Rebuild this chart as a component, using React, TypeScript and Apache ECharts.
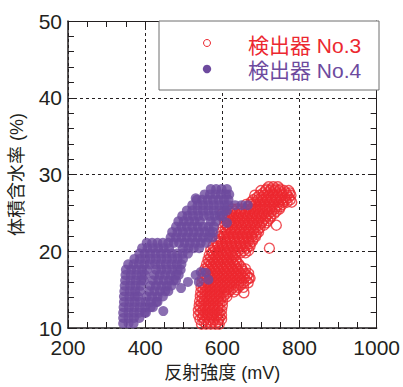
import { useEffect, useRef } from "react";
import * as echarts from "echarts";

// Axis ranges
const xRange = { min: 200, max: 1000, step: 200 };
const yRange = { min: 10, max: 50, step: 10 };

const legendLabels = ["検出器 No.3", "検出器 No.4"];
const xTitle = "反射強度 (mV)";
const yTitle = "体積含水率 (%)";

// Detector No.3 readings, grouped by water content: [%, reflection values in mV]
const detector3Rows: [number, number[]][] = [
  [10.5, [546, 558, 570, 582, 592]],
  [11.1, [542, 554, 566, 578, 590, 598]],
  [11.7, [538, 550, 562, 574, 586, 598]],
  [12.3, [538, 550, 562, 574, 586, 598]],
  [12.9, [540, 552, 564, 576, 588, 600]],
  [13.5, [541, 553, 565, 577, 589, 601]],
  [14.1, [543, 555, 567, 579, 591, 603, 612]],
  [14.7, [544, 556, 568, 580, 592, 604, 616, 630]],
  [15.3, [545, 557, 569, 581, 593, 605, 617, 629, 641, 655]],
  [15.9, [547, 559, 571, 583, 595, 607, 619, 631, 643, 655, 667]],
  [16.5, [549, 561, 573, 585, 597, 609, 621, 633, 645, 657, 669, 672]],
  [17.1, [551, 563, 575, 587, 599, 611, 623, 635, 647, 659, 668]],
  [17.7, [555, 567, 579, 591, 603, 615, 627, 639, 651, 660]],
  [18.3, [559, 571, 583, 595, 607, 619, 631, 643]],
  [18.9, [563, 575, 587, 599, 611, 623, 635]],
  [19.5, [566, 578, 590, 602, 614, 626, 634]],
  [20.1, [570, 582, 594, 606, 618, 630, 642, 656, 668]],
  [20.7, [576, 588, 600, 612, 624, 636, 648, 660, 672]],
  [21.3, [584, 596, 608, 620, 632, 644, 656, 668, 678]],
  [21.9, [592, 604, 616, 628, 640, 652, 664, 676, 686]],
  [22.5, [598, 610, 622, 634, 646, 658, 670, 682, 694]],
  [23.1, [602, 614, 626, 638, 650, 662, 674, 686, 698]],
  [23.7, [606, 618, 630, 642, 654, 666, 678, 690, 702, 714]],
  [24.3, [604, 616, 628, 640, 652, 664, 676, 688, 700, 712, 724]],
  [24.9, [600, 612, 624, 636, 648, 660, 672, 684, 696, 708, 720, 734]],
  [25.5, [626, 638, 650, 662, 674, 686, 698, 710, 722, 736, 748]],
  [26.1, [662, 674, 686, 698, 710, 722, 734, 746, 756]],
  [26.7, [680, 692, 704, 716, 728, 740, 752, 764, 776]],
  [27.3, [684, 696, 708, 720, 732, 744, 756, 768, 778]],
  [27.9, [700, 712, 724, 736, 748, 760, 772]],
  [28.4, [720, 732, 744]],
];
// Readings falling between the rows above, in the core of the band
const detector3MidRows: [number, number[]][] = [
  [10.8, [552, 564, 576, 588]],
  [11.4, [548, 560, 572, 584, 594]],
  [12.0, [544, 556, 568, 580, 592]],
  [12.6, [544, 556, 568, 580, 592]],
  [13.2, [546, 558, 570, 582, 594]],
  [13.8, [548, 560, 572, 584, 596]],
  [14.4, [549, 561, 573, 585, 597, 609]],
  [15.0, [550, 562, 574, 586, 598, 610, 622, 636]],
  [15.6, [552, 564, 576, 588, 600, 612, 624, 636, 648]],
  [16.2, [554, 566, 578, 590, 602, 614, 626, 638, 650, 662]],
  [16.8, [556, 568, 580, 592, 604, 616, 628, 640, 652, 664]],
  [17.4, [558, 570, 582, 594, 606, 618, 630, 642, 654]],
  [18.0, [563, 575, 587, 599, 611, 623, 635, 648]],
  [18.6, [567, 579, 591, 603, 615, 627, 638]],
  [19.2, [570, 582, 594, 606, 618, 628]],
  [19.8, [574, 586, 598, 610, 622, 634, 648, 660]],
  [20.4, [580, 592, 604, 616, 628, 640, 652, 664]],
  [21.0, [588, 600, 612, 624, 636, 648, 660, 672]],
  [21.6, [596, 608, 620, 632, 644, 656, 668, 680]],
  [22.2, [604, 616, 628, 640, 652, 664, 676, 688]],
  [22.8, [608, 620, 632, 644, 656, 668, 680, 692]],
  [23.4, [612, 624, 636, 648, 660, 672, 684, 696, 708]],
  [24.0, [610, 622, 634, 646, 658, 670, 682, 694, 706, 718]],
  [24.6, [606, 618, 630, 642, 654, 666, 678, 690, 702, 714, 726]],
  [25.2, [620, 632, 644, 656, 668, 680, 692, 704, 716, 728, 740]],
  [25.8, [668, 680, 692, 704, 716, 728, 740, 750]],
  [26.4, [674, 686, 698, 710, 722, 734, 746, 758, 768]],
  [27.0, [690, 702, 714, 726, 738, 750, 762, 772]],
  [27.6, [706, 718, 730, 742, 754, 766]],
  [28.1, [714, 726, 738, 750]],
];
const detector3Scattered: [number, number][] = [
  [656, 14.6], [722, 20.4], [740, 23.4], [780, 26.4], [775, 27.6],
];

// Detector No.4 readings, grouped by water content: [%, reflection values in mV]
const detector4Rows: [number, number[]][] = [
  [28.1, [570, 584, 598, 612]],
  [27.4, [554, 568, 582, 596, 610, 618]],
  [26.7, [534, 548, 562, 576, 590, 604, 616]],
  [26.0, [522, 536, 550, 564, 578, 592, 606, 616, 633, 650, 666]],
  [25.3, [508, 522, 536, 550, 564, 578, 592, 606, 612]],
  [24.6, [496, 510, 524, 538, 552, 566, 580, 594, 600]],
  [23.9, [486, 500, 514, 528, 542, 570, 584]],
  [23.2, [480, 494, 508, 522, 536, 550, 564, 578]],
  [22.5, [470, 484, 498, 512, 526, 540, 554, 568, 577]],
  [21.8, [466, 480, 494, 508, 522, 536, 550, 564, 575]],
  [21.1, [404, 418, 432, 446, 460, 474, 488, 502, 516, 530, 544, 558]],
  [20.4, [392, 406, 420, 434, 448, 462, 498, 512, 526, 540]],
  [19.7, [385, 399, 413, 427, 441, 455, 469, 483, 497, 511]],
  [19.0, [372, 386, 400, 414, 428, 442, 456, 470, 484, 498]],
  [18.3, [356, 370, 384, 398, 412, 426, 440, 454, 468, 482, 494]],
  [17.6, [350, 364, 378, 392, 404, 428, 442, 456, 470, 484, 492]],
  [16.9, [349, 363, 377, 391, 400, 424, 438, 452, 466, 480, 487]],
  [16.2, [348, 362, 376, 390, 396, 420, 434, 448, 462, 474, 480]],
  [15.5, [347, 361, 375, 389, 414, 428, 442, 456, 468]],
  [14.8, [346, 360, 374, 386, 410, 424, 438, 452, 460]],
  [14.1, [345, 359, 373, 381, 404, 418, 432, 446]],
  [13.4, [345, 359, 373, 387, 401, 415, 429, 432]],
  [12.7, [344, 358, 372, 386, 400, 414, 420]],
  [12.0, [343, 357, 371, 385, 399, 402]],
  [11.3, [343, 357, 371, 385]],
  [10.6, [343, 357, 370]],
];
const detector4Scattered: [number, number][] = [
  [511, 16.0], [493, 15.2], [447, 12.2],
  [531, 16.9], [544, 17.3], [557, 17.2], [564, 16.3], [539, 16.0],
  [612, 23.7], [531, 26.9],
];

const RED = "#ec2830";
const PURPLE = "#6d4a9e";
const INK = "#231f20";
const FONT = '"Liberation Sans", Arial, "Noto Sans CJK JP", sans-serif';

function toPoints(rowSets: [number, number[]][][], extra: [number, number][]) {
  const pts: [number, number][] = [];
  rowSets.forEach((rows) =>
    rows.forEach(([y, xs]) => xs.forEach((x) => pts.push([x, y])))
  );
  return pts.concat(extra);
}

function frameAxis(extra: Record<string, unknown>) {
  return {
    type: "value",
    axisLine: { show: true, onZero: false, lineStyle: { color: INK, width: 1.5 } },
    axisTick: { show: true, inside: true, length: 8, lineStyle: { color: INK, width: 1 } },
    ...extra,
  };
}

export default function App() {
  const ref = useRef<HTMLDivElement>(null);

  useEffect(() => {
    document.body.style.margin = "0";
    const chart = echarts.init(ref.current!, null, { renderer: "svg" });

    const splitLine = { show: true, lineStyle: { color: INK, width: 1, type: [3, 3] } };
    const tickLabel = {
      fontSize: 21,
      color: INK,
      fontFamily: FONT,
      formatter: (v: number) => String(v),
    };

    chart.setOption({
      animation: false,
      backgroundColor: "#fff",
      grid: { left: 65, right: 24, top: 21, bottom: 53, containLabel: false },
      xAxis: [
        frameAxis({
          min: xRange.min,
          max: xRange.max,
          interval: xRange.step,
          position: "bottom",
          minorTick: { show: true, splitNumber: 4, length: 6, lineStyle: { color: INK } },
          splitLine,
          axisLabel: { ...tickLabel, margin: 9 },
          name: xTitle,
          nameLocation: "middle",
          nameGap: 36,
          nameTextStyle: { fontSize: 18, color: INK, fontFamily: FONT },
        }),
        frameAxis({
          min: xRange.min,
          max: xRange.max,
          interval: xRange.step,
          position: "top",
          axisLine: { show: true, onZero: false, lineStyle: { color: INK, width: 1 } },
          minorTick: { show: true, splitNumber: 4, length: 6, lineStyle: { color: INK } },
          splitLine: { show: false },
          axisLabel: { show: false },
        }),
      ],
      yAxis: [
        frameAxis({
          min: yRange.min,
          max: yRange.max,
          interval: yRange.step,
          position: "left",
          minorTick: { show: true, splitNumber: 5, length: 6, lineStyle: { color: INK } },
          splitLine,
          axisLabel: { ...tickLabel, margin: 6, padding: [0, 0, 4, 0] },
          name: yTitle,
          nameLocation: "middle",
          nameGap: 42,
          nameRotate: 90,
          nameTextStyle: { fontSize: 18, color: INK, fontFamily: FONT },
        }),
        frameAxis({
          min: yRange.min,
          max: yRange.max,
          interval: yRange.step,
          position: "right",
          axisLine: { show: true, onZero: false, lineStyle: { color: INK, width: 1 } },
          minorTick: { show: true, splitNumber: 5, length: 6, lineStyle: { color: INK } },
          splitLine: { show: false },
          axisLabel: { show: false },
        }),
      ],
      series: [
        {
          name: legendLabels[0],
          type: "scatter",
          symbol: "circle",
          symbolSize: 10,
          itemStyle: { color: "rgba(0,0,0,0)", borderColor: RED, borderWidth: 1.4 },
          data: toPoints([detector3Rows, detector3MidRows], detector3Scattered),
          z: 2,
        },
        {
          name: legendLabels[1],
          type: "scatter",
          symbol: "circle",
          symbolSize: 10,
          itemStyle: { color: PURPLE, borderWidth: 0 },
          data: toPoints([detector4Rows], detector4Scattered),
          z: 3,
        },
      ],
      graphic: [
        {
          type: "group",
          z: 100,
          children: [
            {
              type: "rect",
              shape: { x: 159, y: 21, width: 220, height: 69 },
              style: { fill: "#fff", stroke: "#6e6e6e", lineWidth: 1 },
              z: 100,
            },
            {
              type: "circle",
              shape: { cx: 207, cy: 43, r: 3.5 },
              style: { fill: "#fff", stroke: RED, lineWidth: 1 },
              z: 101,
            },
            {
              type: "circle",
              shape: { cx: 207, cy: 69, r: 4.2 },
              style: { fill: PURPLE },
              z: 101,
            },
            {
              type: "text",
              x: 248,
              y: 45,
              style: {
                text: legendLabels[0],
                fill: RED,
                fontSize: 21,
                fontFamily: FONT,
                verticalAlign: "middle",
                align: "left",
              },
              z: 101,
            },
            {
              type: "text",
              x: 248,
              y: 70,
              style: {
                text: legendLabels[1],
                fill: PURPLE,
                fontSize: 21,
                fontFamily: FONT,
                verticalAlign: "middle",
                align: "left",
              },
              z: 101,
            },
          ],
        },
      ],
    });

    return () => chart.dispose();
  }, []);

  return (
    <div
      ref={ref}
      style={{ position: "absolute", left: 0, top: 0, width: 403, height: 387 }}
    />
  );
}
